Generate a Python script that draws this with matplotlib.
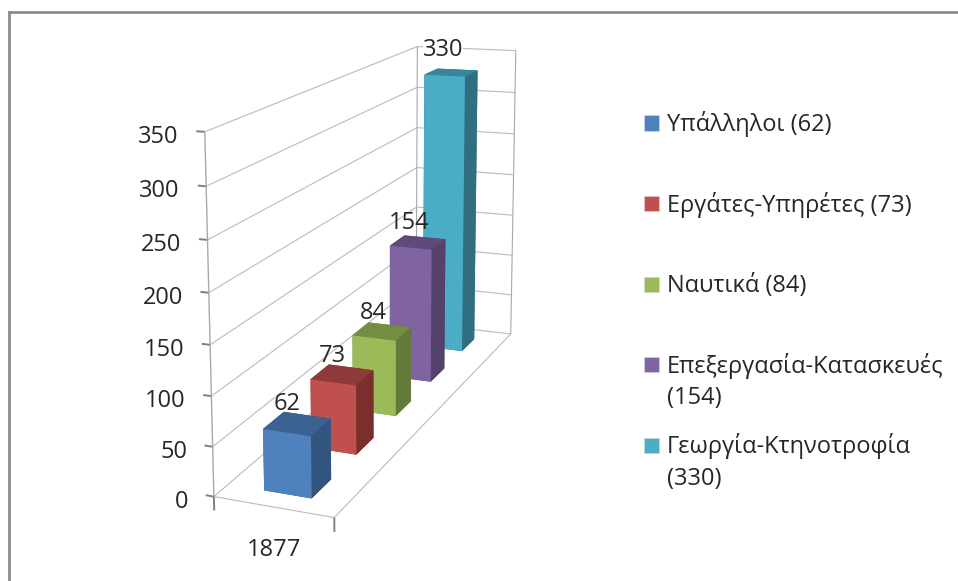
import matplotlib
matplotlib.use("Agg")
import matplotlib.pyplot as plt
import numpy as np
from matplotlib.lines import Line2D
from matplotlib.patches import Rectangle
from mpl_toolkits.mplot3d import proj3d
from mpl_toolkits.mplot3d.art3d import Line3DCollection

plt.rcParams['font.family'] = ['Open Sans', 'Noto Sans', 'DejaVu Sans']

years = ["1877"]
sectors = ["Υπάλληλοι", "Εργάτες-Υπηρέτες", "Ναυτικά", "Επεξεργασία-Κατασκευές", "Γεωργία-Κτηνοτροφία"]
values = [62, 73, 84, 154, 330]
wrap_label = [False, False, False, True, True]
yticks = [0, 50, 100, 150, 200, 250, 300, 350]

front_colors = ["#4F81BD", "#C0504D", "#9BBB59", "#8064A2", "#4BACC6"]
top_colors = ["#3A6391", "#8E3A38", "#748D43", "#604A7B", "#35859B"]
side_colors = ["#32557F", "#7A2F2D", "#657A3A", "#54426B", "#2F6F80"]

W, H = 958, 581
zmax = yticks[-1]
nser = len(values)
fsize = 17

# camera: fit a projective matrix from box corners (data -> picture pixels)
world = [(0, 0, 0), (1, 0, 0), (0, nser, 0), (1, nser, 0), (0, 0, zmax), (0, nser, zmax), (1, nser, zmax)]
pixels = [(213, 497), (335, 517), (417, 322), (510, 335), (205, 132), (417, 47), (516, 50)]
A, b = [], []
for (x, y, z), (u, v) in zip(world, pixels):
    A.append([x, y, z, 1, 0, 0, 0, 0, -u * x, -u * y, -u * z])
    b.append(u)
    A.append([0, 0, 0, 0, x, y, z, 1, -v * x, -v * y, -v * z])
    b.append(v)
h = np.linalg.lstsq(np.array(A, float), np.array(b, float), rcond=None)[0]
M = np.array([
    [h[0], h[1], h[2], h[3]],
    [h[4], h[5], h[6], h[7]],
    [-0.1, 0.2, -0.1 / zmax, 1.0],
    [h[8], h[9], h[10], 1.0],
])

fig = plt.figure(figsize=(W / 100, H / 100), dpi=100)
# square axes (3d axes insist on it), wider than the figure in height
pad = (W - H) / 2
ax = fig.add_axes([0, -pad / H, 1, W / H], projection='3d')
ax.set_xticks([])
ax.set_yticks([])
ax.set_zticks([])
ax.set_axis_off()
ax.computed_zorder = False
ax.get_proj = lambda: M
ax.viewLim.intervalx = (0, W)
ax.viewLim.intervaly = (H + pad, -pad)

gc = "#BBBBBB"
tc = "#808080"

def line3(p0, p1, color=gc, width=0.8):
    ax.add_collection3d(Line3DCollection([[p0, p1]], colors=color, linewidths=width, zorder=1))

def label3(x, y, z, s, ha='center', bbox=None):
    # project first, so the text sits at its real place on the 2d canvas
    u, v, _ = proj3d.proj_transform(x, y, z, M)
    ax.text2D(u, v, s, transform=ax.transData, ha=ha, va='center', fontsize=fsize, color="#262626",
              zorder=10, bbox=bbox)

# grid on the two walls
for t in yticks:
    line3((0, 0, t), (0, nser, t))
    line3((0, nser, t), (1, nser, t))
    line3((-0.07, 0, t), (0, 0, t), color=tc, width=1.4)
    label3(-0.22, 0, t * 1.011 - 10, str(t), ha='right')
line3((0, 0, 0), (0, 0, zmax), color="#A8A8A8", width=1.0)
line3((0, nser, 0), (0, nser, zmax), color="#A8A8A8")
line3((1, nser, 0), (1, nser, zmax), color="#A8A8A8")
line3((0, 0, 0), (1, 0, 0))
line3((1, 0, 0), (1, nser, 0))
line3((0, 0, -14), (0, 0, 0), color=tc, width=1.4)
line3((1, 0, -14), (1, 0, 0), color=tc, width=1.4)
label3(0.5, 0, -43, years[0])

# bars, back to front
bar_w = 0.4
bar_d = 0.42
for i in range(nser - 1, -1, -1):
    faces = [side_colors[i], top_colors[i], front_colors[i], side_colors[i], side_colors[i], side_colors[i]]
    ax.bar3d(0.31, i + 0.27, 0, bar_w, bar_d, values[i], color=faces, shade=False, zorder=2 + nser - i)

for i in range(nser):
    box = dict(fc='white', ec='none', pad=0) if values[i] == max(values) else None
    label3(0.42, i + 0.5, values[i] * 1.03 + 16, str(values[i]), bbox=box)

# legend
for i in range(nser):
    yc = 123 + 80.6 * i
    fig.add_artist(Rectangle((644 / W, 1 - (yc + 7.5) / H), 15 / W, 15 / H, transform=fig.transFigure,
                             fc=front_colors[i], ec='#D0D8E0', lw=0.4))
    lines = [sectors[i], f"({values[i]})"] if wrap_label[i] else [f"{sectors[i]} ({values[i]})"]
    for j, s in enumerate(lines):
        fig.text(667 / W, 1 - (yc + 8 + 31.5 * j) / H, s, ha='left', va='baseline', fontsize=fsize, color="#262626")

# chart frame, only left and top show
fig.add_artist(Line2D([9 / W, 9 / W], [0, 1 - 12 / H], color="#8C8C8C", lw=2, transform=fig.transFigure))
fig.add_artist(Line2D([9 / W, 1], [1 - 12 / H, 1 - 12 / H], color="#8C8C8C", lw=2, transform=fig.transFigure))

fig.savefig("out.png", dpi=100)
